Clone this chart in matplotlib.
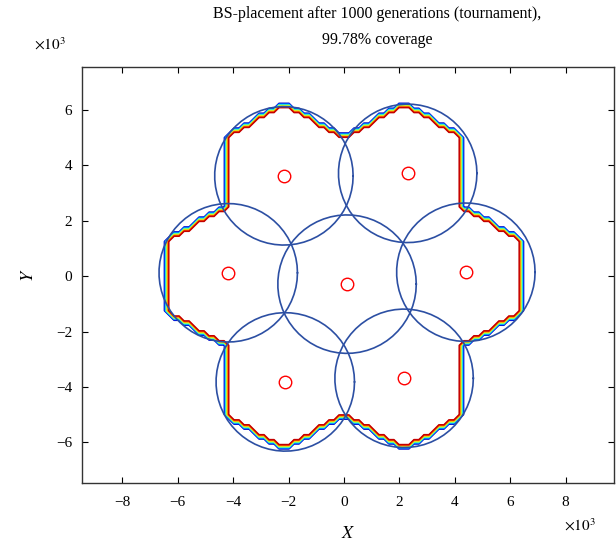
import numpy as np
import matplotlib
matplotlib.use("Agg")
import matplotlib.pyplot as plt

plt.rcParams['font.family'] = ['Liberation Serif', 'DejaVu Serif']
plt.rcParams['mathtext.fontset'] = 'stix'

# base station positions after optimisation (x10^3)
bs_x = [-2.17, 2.30, -4.18, 0.11, 4.40, -2.12, 2.17]
bs_y = [3.62, 3.71, 0.12, -0.29, 0.14, -3.82, -3.69]
cov_r = 2.5  # coverage radius

# hexagonal service area: cell centres and circumradius (x10^3)
cell_x = [0.0, 4.33, -4.33, 2.165, -2.165, 2.165, -2.165]
cell_y = [0.0, 0.0, 0.0, 3.75, 3.75, -3.75, -3.75]
cell_r = 2.5

xticks = [-8, -6, -4, -2, 0, 2, 4, 6, 8]
yticks = [-6, -4, -2, 0, 2, 4, 6]

# service-area mask on a coarse grid (nodes on the hexagon vertices)
a = cell_r * np.sqrt(3) / 2
gx = np.arange(-45, 46) * (a / 12)
gy = np.arange(-45, 46) * (cell_r / 14)
X, Y = np.meshgrid(gx, gy)
Z = np.zeros_like(X)
for cx, cy in zip(cell_x, cell_y):
    dx = np.abs(X - cx)
    dy = np.abs(Y - cy)
    inside = (dx <= a + 1e-6) & (0.5 * dx + np.sqrt(3) / 2 * dy <= a + 1e-6)
    Z[inside] = 1.0

fig = plt.figure(figsize=(6.16, 5.41), dpi=100)
ax = fig.add_axes([82 / 616, 58 / 541, 532 / 616, 416 / 541])

ax.contour(X, Y, Z, levels=np.linspace(0.06, 0.94, 8), cmap='jet',
           vmin=0, vmax=1, linewidths=1.1)

t = np.linspace(0, 2 * np.pi, 60)
for bx, by in zip(bs_x, bs_y):
    ax.plot(bx + cov_r * np.cos(t), by + cov_r * np.sin(t), color='#2c4fa3', linewidth=1.2)

ax.plot(bs_x, bs_y, 'o', mfc='none', mec='red', ms=9, mew=1.0, linestyle='none')

ax.set_xlim(-9.46, 9.75)
ax.set_ylim(-7.47, 7.55)
ax.set_xticks(xticks)
ax.set_yticks(yticks)
ax.set_xticklabels([str(v).replace('-', '\u2212') for v in xticks])
ax.set_yticklabels([str(v).replace('-', '\u2212') for v in yticks])
ax.tick_params(direction='in', top=True, right=True, length=4, labelsize=11)
ax.tick_params(axis='x', pad=9)
ax.tick_params(axis='y', pad=7)
for s in ax.spines.values():
    s.set_linewidth(1.0)
    s.set_color('#333333')

ax.set_xlabel('$X$', fontsize=13, labelpad=12)
ax.set_ylabel('$Y$', fontsize=13, labelpad=14)

fig.text(377 / 616, 1 - 14 / 541, 'BS-placement after 1000 generations (tournament),',
         ha='center', va='center', fontsize=11.5)
fig.text(377 / 616, 1 - 40 / 541, '99.78% coverage', ha='center', va='center', fontsize=11.5)
fig.text(50 / 616, 1 - 44 / 541, r'$\times 10^3$', ha='center', va='center', fontsize=11)
fig.text(580 / 616, 1 - 525 / 541, r'$\times 10^3$', ha='center', va='center', fontsize=11)

fig.savefig('out.png', dpi=100)
